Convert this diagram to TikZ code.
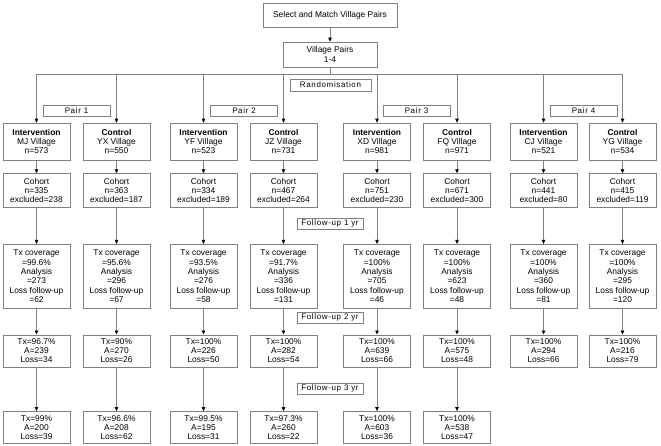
\documentclass[tikz,border=0pt]{standalone}
\usepackage{fontspec}
\setmainfont{Liberation Sans}
\usetikzlibrary{arrows.meta, positioning}

\begin{document}
\begin{tikzpicture}[x=1pt, y=-1pt,
    box/.style={draw=gray, line width=0.6pt, minimum width=67pt, inner sep=1pt, align=center, font=\fontsize{8.4}{9.3}\selectfont},
    vbox/.style={box, minimum height=37pt},
    cbox/.style={box, minimum height=34pt},
    tbox/.style={box, minimum height=64pt},
    fbox/.style={box, minimum height=32pt},
    tag/.style={draw=gray, line width=0.6pt, minimum width=67pt, minimum height=11pt, inner sep=0pt, font=\fontsize{8}{9}\selectfont\addfontfeature{LetterSpace=8}},
    ln/.style={draw=gray, line width=0.8pt},
    arr/.style={ln, -{Triangle[length=4pt, width=3.5pt, color=black]}}]
  \useasboundingbox (0,0) rectangle (661,445);

  % top of the flow
  \node[box, minimum width=134pt, minimum height=24pt] (sel) at (330,15) {Select and Match Village Pairs};
  \node[box, minimum width=94pt, minimum height=25pt] (vp) at (330,54.5) {Village Pairs\\1-4};
  \coordinate (bus) at (330,74);
  \node[tag, minimum width=81pt, minimum height=12pt] (rand) at (330.5,85) {Randomisation};

  \node[tag] (p1) at (76.5,110.5) {Pair 1};
  \node[tag] (p2) at (244,110.5) {Pair 2};
  \node[tag] (p3) at (416.5,110.5) {Pair 3};
  \node[tag] (p4) at (583.5,110.5) {Pair 4};

  % villages
  \node[vbox] (v1) at (36.5,141.5) {\textbf{Intervention}\\MJ Village\\n=573};
  \node[vbox] (v2) at (116.5,141.5) {\textbf{Control}\\YX Village\\n=550};
  \node[vbox] (v3) at (203.5,141.5) {\textbf{Intervention}\\YF Village\\n=523};
  \node[vbox] (v4) at (283.5,141.5) {\textbf{Control}\\JZ Village\\n=731};
  \node[vbox] (v5) at (377,141.5) {\textbf{Intervention}\\XD Village\\n=981};
  \node[vbox] (v6) at (457,141.5) {\textbf{Control}\\FQ Village\\n=971};
  \node[vbox] (v7) at (543.5,141.5) {\textbf{Intervention}\\CJ Village\\n=521};
  \node[vbox] (v8) at (622.5,141.5) {\textbf{Control}\\YG Village\\n=534};

  % cohorts
  \node[cbox, below=13pt of v1] (c1) {Cohort\\n=335\\excluded=238};
  \node[cbox, below=13pt of v2] (c2) {Cohort\\n=363\\excluded=187};
  \node[cbox, below=13pt of v3] (c3) {Cohort\\n=334\\excluded=189};
  \node[cbox, below=13pt of v4] (c4) {Cohort\\n=467\\excluded=264};
  \node[cbox, below=13pt of v5] (c5) {Cohort\\n=751\\excluded=230};
  \node[cbox, below=13pt of v6] (c6) {Cohort\\n=671\\excluded=300};
  \node[cbox, below=13pt of v7] (c7) {Cohort\\n=441\\excluded=80};
  \node[cbox, below=13pt of v8] (c8) {Cohort\\n=415\\excluded=119};

  % follow-up 1 yr
  \node[tbox, below=36pt of c1] (t1) {Tx coverage\\=99.6\%\\Analysis\\=273\\Loss follow-up\\=62};
  \node[tbox, below=36pt of c2] (t2) {Tx coverage\\=95.6\%\\Analysis\\=296\\Loss follow-up\\=67};
  \node[tbox, below=36pt of c3] (t3) {Tx coverage\\=93.5\%\\Analysis\\=276\\Loss follow-up\\=58};
  \node[tbox, below=36pt of c4] (t4) {Tx coverage\\=91.7\%\\Analysis\\=336\\Loss follow-up\\=131};
  \node[tbox, below=36pt of c5] (t5) {Tx coverage\\=100\%\\Analysis\\=705\\Loss follow-up\\=46};
  \node[tbox, below=36pt of c6] (t6) {Tx coverage\\=100\%\\Analysis\\=623\\Loss follow-up\\=48};
  \node[tbox, below=36pt of c7] (t7) {Tx coverage\\=100\%\\Analysis\\=360\\Loss follow-up\\=81};
  \node[tbox, below=36pt of c8] (t8) {Tx coverage\\=100\%\\Analysis\\=295\\Loss follow-up\\=120};

  % follow-up 2 yr
  \node[fbox, below=26pt of t1] (f1) {Tx=96.7\%\\A=239\\Loss=34};
  \node[fbox, below=26pt of t2] (f2) {Tx=90\%\\A=270\\Loss=26};
  \node[fbox, below=26pt of t3] (f3) {Tx=100\%\\A=226\\Loss=50};
  \node[fbox, below=26pt of t4] (f4) {Tx=100\%\\A=282\\Loss=54};
  \node[fbox, below=26pt of t5] (f5) {Tx=100\%\\A=639\\Loss=66};
  \node[fbox, below=26pt of t6] (f6) {Tx=100\%\\A=575\\Loss=48};
  \node[fbox, below=26pt of t7] (f7) {Tx=100\%\\A=294\\Loss=66};
  \node[fbox, below=26pt of t8] (f8) {Tx=100\%\\A=216\\Loss=79};

  % follow-up 3 yr
  \node[fbox, below=44pt of f1] (g1) {Tx=99\%\\A=200\\Loss=39};
  \node[fbox, below=44pt of f2] (g2) {Tx=96.6\%\\A=208\\Loss=62};
  \node[fbox, below=44pt of f3] (g3) {Tx=99.5\%\\A=195\\Loss=31};
  \node[fbox, below=44pt of f4] (g4) {Tx=97.3\%\\A=260\\Loss=22};
  \node[fbox, below=44pt of f5] (g5) {Tx=100\%\\A=603\\Loss=36};
  \node[fbox, below=44pt of f6] (g6) {Tx=100\%\\A=538\\Loss=47};

  \node[tag, minimum width=66pt] (fu1) at (330,223.5) {Follow-up 1 yr};
  \node[tag, minimum width=66pt] (fu2) at (330,317.5) {Follow-up 2 yr};
  \node[tag, minimum width=66pt] (fu3) at (330,388.5) {Follow-up 3 yr};

  % connectors
  \draw[arr] (sel) -- (vp);
  \draw[ln] (vp) -- (bus);
  \draw[ln] (v1.north |- bus) -- (v8.north |- bus);
  \foreach \i in {1,...,8} {
    \draw[arr] (v\i.north |- bus) -- (v\i);
    \draw[arr] (v\i) -- (c\i);
    \draw[arr] (c\i) -- (t\i);
    \draw[arr] (t\i) -- (f\i);
  }
  \foreach \i in {1,...,6}
    \draw[arr] (f\i) -- (g\i);
\end{tikzpicture}
\end{document}
